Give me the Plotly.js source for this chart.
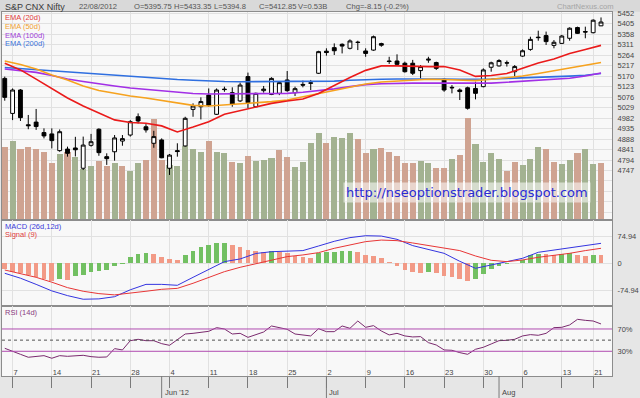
<!DOCTYPE html>
<html><head><meta charset="utf-8">
<script src="https://cdn.plot.ly/plotly-3.0.1.min.js"></script>
<style>html,body{margin:0;padding:0;background:#e6e6e6;}#chart{width:640px;height:398px;}</style>
</head><body><div id="chart"></div>
<script>
// ---------- DATA ----------
const dates = [
 '2012-05-04',
 '2012-05-07','2012-05-08','2012-05-09','2012-05-10','2012-05-11',
 '2012-05-14','2012-05-15','2012-05-16','2012-05-17','2012-05-18',
 '2012-05-21','2012-05-22','2012-05-23','2012-05-24','2012-05-25',
 '2012-05-28','2012-05-29','2012-05-30','2012-05-31','2012-06-01',
 '2012-06-04','2012-06-05','2012-06-06','2012-06-07','2012-06-08',
 '2012-06-11','2012-06-12','2012-06-13','2012-06-14','2012-06-15',
 '2012-06-18','2012-06-19','2012-06-20','2012-06-21','2012-06-22',
 '2012-06-25','2012-06-26','2012-06-27','2012-06-28','2012-06-29',
 '2012-07-02','2012-07-03','2012-07-04','2012-07-05','2012-07-06',
 '2012-07-09','2012-07-10','2012-07-11','2012-07-12','2012-07-13',
 '2012-07-16','2012-07-17','2012-07-18','2012-07-19','2012-07-20',
 '2012-07-23','2012-07-24','2012-07-25','2012-07-26','2012-07-27',
 '2012-07-30','2012-07-31','2012-08-01','2012-08-02','2012-08-03',
 '2012-08-06','2012-08-07','2012-08-08','2012-08-09','2012-08-10',
 '2012-08-13','2012-08-14','2012-08-16','2012-08-17',
 '2012-08-21','2012-08-22'];

const openP = [5160,5003,5108,4952,4964,4917,4911,4836,4843,4848,
 4757,4860,4932,4809,4831,4879,4906,4988,4943,4869,
 4884,4757,4836,4857,5021,5033,5085,4999,5112,5096,
 5059,5168,5033,5105,5088,5093,5153,5096,5133,5138,
 5183,5282,5298,5313,5295,5321,5283,5287,5316,5238,
 5238,5228,5228,5195,5242,5231,5156,5120,5108,5118,
 5115,5123,5210,5216,5230,5190,5260,5290,5345,5352,
 5308,5317,5340,5388,5370,5365,5395.75];
const highP = [5168,5115,5112,4996,5023,4936,4936,4931,4854,4898,
 4899,4911,4936,4824,4906,4906,4973,5003,4955,4925,
 4891,4821,4869,4988,5048,5075,5115,5115,5123,5120,
 5141,5186,5096,5126,5165,5145,5193,5123,5150,5153,
 5284,5295,5317,5317,5335,5329,5295,5352,5320,5257,
 5268,5235,5243,5220,5257,5235,5160,5130,5115,5123,
 5145,5205,5235,5246,5240,5220,5290,5347,5374,5370,
 5332,5355,5389,5392,5392,5425,5433.35];
const lowP = [5060,4973,4969,4932,4929,4891,4846,4831,4809,4810,
 4749,4854,4813,4772,4791,4858,4899,4958,4917,4849,
 4802,4727,4809,4854,4988,4976,5033,4996,5100,5033,
 5054,5026,5030,5096,5085,5085,5100,5081,5120,5108,
 5180,5262,5265,5272,5290,5287,5257,5284,5302,5225,
 5220,5186,5175,5160,5230,5198,5100,5093,5063,5020,
 5066,5120,5190,5213,5213,5168,5257,5284,5329,5310,
 5295,5314,5329,5359,5340,5362,5394.8];
const closeP = [5075,5108,4984,4948,4944,4902,4881,4921,4824,4840,
 4861,4876,4827,4800,4893,4890,4966,4969,4929,4899,
 4804,4816,4832,4981,5036,5056,5038,5108,5110,5044,
 5130,5051,5093,5112,5160,5141,5105,5114,5130,5140,
 5280,5276,5284,5305,5328,5322,5272,5347,5309,5236,
 5223,5190,5183,5213,5246,5205,5108,5118,5101,5026,
 5093,5198,5230,5240,5229,5213,5284,5335,5343,5325,
 5322,5350,5385,5362,5368,5421,5412.85];
// volume in millions of shares
const volume = [680,733,661,674,655,633,524,611,633,586,
 471,499,549,502,530,499,452,524,555,936,
 555,508,499,686,658,627,733,633,618,540,
 524,593,546,555,577,649,586,493,540,717,
 811,711,768,758,805,752,624,655,671,633,
 593,524,530,549,530,483,483,562,602,946,
 702,540,624,562,455,540,508,562,680,661,
 534,515,555,618,658,518,530];

// indicator lines read on every second trading day
const lineSampleStep = 2;
const ema20 = [5228,5198,5157,5113,5072,5036,5005,4974,4962,4959,
 4947,4920,4942,4966,4999,5016,5033,5048,5059,5068,
 5092,5128,5164,5196,5216,5216,5213,5213,5213,5198,
 5169,5173,5182,5204,5229,5247,5272,5290,5308];
const ema50 = [5238,5222,5202,5175,5153,5126,5106,5092,5081,5072,
 5061,5048,5039,5036,5041,5043,5050,5056,5063,5077,
 5092,5108,5121,5135,5144,5148,5155,5156,5155,5152,
 5150,5156,5163,5171,5182,5196,5207,5219,5231];
const ema100 = [5202,5196,5187,5173,5157,5146,5135,5126,5117,5110,
 5104,5097,5092,5090,5090,5090,5090,5091,5093,5098,
 5104,5113,5123,5132,5136,5139,5139,5139,5139,5139,
 5138,5139,5143,5147,5151,5155,5161,5171,5184];
const ema200 = [5209,5204,5200,5196,5190,5184,5179,5173,5169,5164,
 5160,5155,5152,5148,5146,5145,5145,5145,5145,5145,
 5146,5148,5152,5155,5156,5157,5158,5158,5157,5156,
 5156,5157,5160,5162,5164,5166,5170,5174,5182];
const macdLine = [-27.5,-41,-58,-76,-89,-99,-98,-92,-73,-58,
 -58,-60.6,-38.6,-16.5,4.6,12,27,32,34,35,
 47.7,60.6,70.7,76,75,66,48.7,38.6,27.5,5.5,
 -13.8,-4.6,5.5,13.8,30.3,36.7,44,48.7,55];
const signalLine = [-18.4,-27.5,-38.6,-52,-67,-77,-83.5,-87,-82.6,-77,
 -71.6,-69,-55,-38.6,-23,-11,-1.8,9.2,18.4,23,
 29.4,41.3,50.5,59.7,64,62.4,56,49.6,43,35,
 20.2,8.3,4.6,9.2,16.5,21,27.5,35,41.3];
const macdHist = [-16.5,-23,-27.5,-33,-38.6,-44,-48.7,-43,-45,-35,
 -32,-25,-20,-18.4,-6.4,-2,18.4,25.7,27.5,25.7,
 16.5,11,9.2,23,35,46,50,55,57,50,
 44,38,34,32,35,32,28,21,16.5,13.8,
 28,30,32,34,35,30,23,21,14,3.7,
 -7.3,-18.4,-24.8,-25.7,-23.9,-27.5,-34,-38.6,-44,-47.7,
 -44,-30,-16.5,-7.3,-2.5,1.5,8,23,25.7,25,
 23,25.7,27.5,24,20.2,23,22.5];
const rsi = [35.4,30.6,24.6,19.3,20.4,22.2,17.5,22.2,21,21.6,
 22.8,20.4,19.3,19.8,34.8,32.4,49,51.5,49,49,
 43.7,40.7,50.3,61,62.2,63.4,65.8,72.4,70,61,
 62.2,55,60.4,64.6,75.4,73,69.4,61,58.7,57.5,
 70.5,65.2,65.2,75.4,71.2,84.3,73,76,66.4,59.3,
 62.2,57.5,55.7,56.3,45.5,41.3,32.4,31.8,27.6,24.6,
 33.6,37.2,43.1,49.1,49.7,51.5,57.5,59.9,58.7,62.2,
 72.4,73,77.2,87.3,85.5,84.3,79];
const rsiLevels = [70, 30];
const rsiMid = 50;

// tick labels
const weekTickDates = ['2012-05-07','2012-05-14','2012-05-21','2012-05-28','2012-06-04','2012-06-11',
 '2012-06-18','2012-06-25','2012-07-02','2012-07-09','2012-07-16','2012-07-23','2012-07-30',
 '2012-08-06','2012-08-13','2012-08-21'];
const weekTickLabels = ['7','14','21','28','4','11','18','25','2','9','16','23','30','6','13','21'];
const monthStartDates = ['2012-06-01','2012-07-02','2012-08-01'];
const monthLabels = ["Jun '12",'Jul','Aug'];
const priceTickVals = [5452,5405,5358,5311,5264,5217,5170,5123,5076,5029,4982,4935,4888,4841,4794,4747,4700,4653,4606,4559];
const priceTickLabels = ['5452','5405','5358','5311','5264','5217','5170','5123','5076','5029','4982','4935','4888','4841','4794','4747','','','',''];
const macdTickVals = [74.94, 0, -74.94];
const macdTickLabels = ['74.94','0','-74.94'];
const rsiTickLabels = ['70%','30%'];

// ---------- BUILD ----------
const sampleDates = dates.filter((d, i) => i % lineSampleStep === 0);
const volColors = closeP.map((c, i) => {
  const up = i === 0 ? c >= openP[0] : c >= closeP[i - 1];
  return up ? '#a3b291' : '#cfa391';
});
const histColors = macdHist.map((h, i) => (i > 0 && h > macdHist[i - 1]) ? '#72c062' : '#f29a86');

const traces = [
  {type:'bar', x:dates, y:volume, xaxis:'x', yaxis:'y', marker:{color:volColors, line:{width:0}}, width:0.78, hoverinfo:'skip'},
  {type:'candlestick', x:dates, open:openP, high:highP, low:lowP, close:closeP, xaxis:'x', yaxis:'y2',
   increasing:{line:{color:'#000000', width:1}, fillcolor:'#ffffff'},
   decreasing:{line:{color:'#000000', width:1}, fillcolor:'#000000'},
   whiskerwidth:0, hoverinfo:'skip'},
  {type:'scatter', mode:'lines', x:sampleDates, y:ema200, xaxis:'x', yaxis:'y2', line:{color:'#2f6fe0', width:1.6}, hoverinfo:'skip'},
  {type:'scatter', mode:'lines', x:sampleDates, y:ema100, xaxis:'x', yaxis:'y2', line:{color:'#a22fe6', width:1.6}, hoverinfo:'skip'},
  {type:'scatter', mode:'lines', x:sampleDates, y:ema50, xaxis:'x', yaxis:'y2', line:{color:'#f6a21e', width:1.6}, hoverinfo:'skip'},
  {type:'scatter', mode:'lines', x:sampleDates, y:ema20, xaxis:'x', yaxis:'y2', line:{color:'#ea1a1a', width:1.6}, hoverinfo:'skip'},
  {type:'bar', x:dates, y:macdHist, xaxis:'x3', yaxis:'y3', marker:{color:histColors, line:{width:0}}, width:0.6, hoverinfo:'skip'},
  {type:'scatter', mode:'lines', x:sampleDates, y:macdLine, xaxis:'x3', yaxis:'y3', line:{color:'#3434e0', width:1}, hoverinfo:'skip'},
  {type:'scatter', mode:'lines', x:sampleDates, y:signalLine, xaxis:'x3', yaxis:'y3', line:{color:'#e83636', width:1}, hoverinfo:'skip'},
  {type:'scatter', mode:'lines', x:dates, y:rsi, xaxis:'x4', yaxis:'y4', line:{color:'#7a2a6e', width:1}, hoverinfo:'skip'}
];

const gridC = '#e1e1e1', frameC = '#8c8c8c';
const baseX = {
  type:'category', categoryorder:'array', categoryarray:dates, range:[-0.35, 77.4],
  tickvals:weekTickDates, ticktext:weekTickLabels, showgrid:true, gridcolor:gridC, gridwidth:1,
  showline:true, mirror:true, linecolor:frameC, linewidth:1, zeroline:false, fixedrange:true,
  ticks:'', showticklabels:false
};
const H = 364; // plot area height in px (398 - 12 - 22)
const py = v => (376 - v) / H;  // page pixel y -> paper
const px = v => (v - 2) / 610;   // page pixel x -> paper

const layout = {
  width:640, height:398, margin:{l:2, r:28, t:12, b:22, pad:0},
  paper_bgcolor:'#e6e6e6', plot_bgcolor:'#f8f8f8', showlegend:false,
  font:{family:'Liberation Sans, Arial, sans-serif', size:7.5, color:'#454545'},
  bargap:0,
  xaxis: Object.assign({}, baseX, {anchor:'y', rangeslider:{visible:false}}),
  xaxis3: Object.assign({}, baseX, {anchor:'y3'}),
  xaxis4: Object.assign({}, baseX, {anchor:'y4', ticks:'outside', ticklen:11, tickcolor:'#7a7a7a', tickwidth:1,
    showticklabels:true, ticklabelposition:'outside right', ticklabelstandoff:-11,
    tickfont:{size:7.5, color:'#454545'}}),
  yaxis: {domain:[0.4286, 1], range:[-6.5, 1941], visible:false, fixedrange:true, showgrid:false, zeroline:false},
  yaxis2: {overlaying:'y', anchor:'x', side:'right', range:[4525, 5457.8], tickvals:priceTickVals, ticktext:priceTickLabels,
    showgrid:true, gridcolor:gridC, showline:true, mirror:true, linecolor:frameC, ticks:'', zeroline:false,
    ticklabelstandoff:3, fixedrange:true},
  yaxis3: {domain:[0.1923, 0.4286], anchor:'x3', side:'right', range:[-117.6, 119.3], tickvals:macdTickVals, ticktext:macdTickLabels,
    showgrid:true, gridcolor:gridC, showline:true, mirror:true, linecolor:frameC, ticks:'', zeroline:false,
    ticklabelstandoff:3, fixedrange:true},
  yaxis4: {domain:[0, 0.1923], anchor:'x4', side:'right', range:[-14.3, 111.2], tickvals:rsiLevels, ticktext:rsiTickLabels,
    showgrid:false, showline:true, mirror:true, linecolor:frameC, ticks:'', zeroline:false,
    ticklabelstandoff:3, fixedrange:true},
  shapes: [],
  annotations: []
};

// header band
layout.shapes.push({type:'rect', xref:'paper', yref:'paper', x0:px(0), x1:px(640), y0:1.001, y1:py(0), fillcolor:'#d9d9d9', line:{width:0}, layer:'below'});
// RSI levels
rsiLevels.forEach(v => layout.shapes.push({type:'line', xref:'x4 domain', yref:'y4', x0:0, x1:1, y0:v, y1:v, line:{color:'#b04cb0', width:1}}));
layout.shapes.push({type:'line', xref:'x4 domain', yref:'y4', x0:0, x1:1, y0:rsiMid, y1:rsiMid, line:{color:'#505050', width:1, dash:'dot'}});
// month separators and labels
monthStartDates.forEach((d, k) => {
  const idx = dates.indexOf(d);
  layout.shapes.push({type:'line', xref:'x4', yref:'paper', x0:idx, x1:idx, y0:0, y1:py(398), line:{color:'#7a7a7a', width:1}});
  layout.annotations.push({xref:'x4', yref:'paper', x:idx, y:py(392), xanchor:'left', yanchor:'middle', xshift:1, showarrow:false,
    text:monthLabels[k], font:{size:7.5, color:'#454545'}});
});

function label(text, x, y, color, size, family) {
  layout.annotations.push({xref:'paper', yref:'paper', x:px(x), y:py(y), xanchor:'left', yanchor:'middle', showarrow:false,
    text:text, font:{size:size || 7.5, color:color || '#454545', family:family || 'Liberation Sans, Arial, sans-serif'}});
}
// header texts
label('S&amp;P CNX Nifty', 2.5, 6.5, '#3a3a3a', 9);
label('22/08/2012', 77, 6.5, '#555555', 7.6);
label('O=5395.75', 132, 6.5, '#555555', 7.6);
label('H=5433.35', 172, 6.5, '#555555', 7.6);
label('L=5394.8', 212, 6.5, '#555555', 7.6);
label('C=5412.85', 257, 6.5, '#555555', 7.6);
label('V=0.53B', 296, 6.5, '#555555', 7.6);
label('Chg=-8.15 (-0.2%)', 344, 6.5, '#555555', 7.6);
label('ChartNexus.com', 555, 6.5, '#a5a5a5', 7.6);
// legends
label('EMA (20d)', 3, 17.3, '#e03a3a');
label('EMA (50d)', 3, 26.5, '#f0a030');
label('EMA (100d)', 3, 35, '#a03cd8');
label('EMA (200d)', 3, 43.5, '#3c72d8');
label('MACD (26d,12d)', 3, 226, '#3a3ad8');
label('Signal (9)', 3, 234.7, '#e03c3c');
label('RSI (14d)', 3, 312.3, '#8a3a80');
// watermark
layout.annotations.push({xref:'paper', yref:'paper', x:px(343), y:py(192), xanchor:'left', yanchor:'middle', showarrow:false,
  text:'http://nseoptionstrader.blogspot.com', bgcolor:'rgba(255,255,255,0.55)', borderpad:2,
  font:{family:'DejaVu Sans, Verdana, sans-serif', size:13, color:'#2b2bd4'}});

Plotly.newPlot('chart', traces, layout, {staticPlot:true, displayModeBar:false});
</script>
</body></html>
